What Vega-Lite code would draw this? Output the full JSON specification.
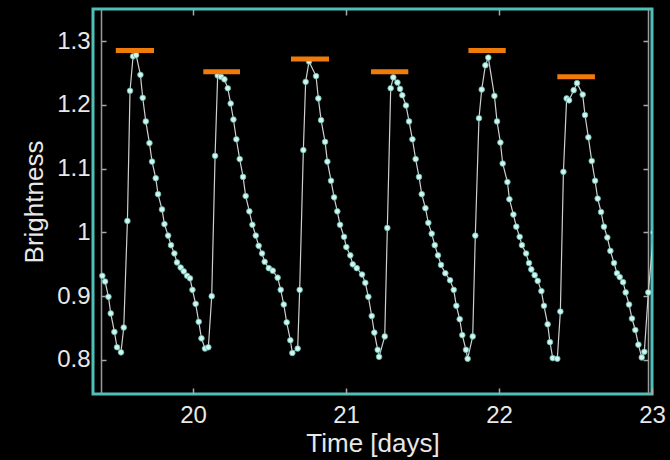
{
  "$schema": "https://vega.github.io/schema/vega-lite/v6.json",
  "width": 559,
  "height": 385,
  "autosize": {"type": "none"},
  "padding": {"left": 93, "top": 9, "right": 18, "bottom": 66},
  "background": "#000000",
  "config": {
    "view": {"stroke": "#4FC0B8", "strokeWidth": 3},
    "font": "Liberation Sans",
    "axis": {
      "grid": false,
      "domainColor": "#9a9a9a",
      "domainWidth": 1.5,
      "tickColor": "#a8a8a8",
      "tickWidth": 1.5,
      "labelColor": "#e8e8e8",
      "titleColor": "#e8e8e8",
      "labelFontSize": 24,
      "titleFontSize": 26,
      "titleFontWeight": "normal",
      "labelFont": "Liberation Sans",
      "titleFont": "Liberation Sans"
    }
  },
  "datasets": {
    "obs": [
      {"t": 19.407, "b": 0.932}, {"t": 19.425, "b": 0.923}, {"t": 19.447, "b": 0.899}, {"t": 19.462, "b": 0.873},
      {"t": 19.486, "b": 0.844}, {"t": 19.503, "b": 0.820}, {"t": 19.529, "b": 0.812}, {"t": 19.547, "b": 0.851},
      {"t": 19.571, "b": 1.018}, {"t": 19.588, "b": 1.222}, {"t": 19.608, "b": 1.276}, {"t": 19.628, "b": 1.278},
      {"t": 19.656, "b": 1.247}, {"t": 19.671, "b": 1.211}, {"t": 19.691, "b": 1.174}, {"t": 19.715, "b": 1.140},
      {"t": 19.732, "b": 1.111}, {"t": 19.756, "b": 1.085}, {"t": 19.771, "b": 1.060}, {"t": 19.797, "b": 1.036},
      {"t": 19.813, "b": 1.013}, {"t": 19.837, "b": 0.995}, {"t": 19.856, "b": 0.980}, {"t": 19.878, "b": 0.967},
      {"t": 19.895, "b": 0.953}, {"t": 19.919, "b": 0.945}, {"t": 19.939, "b": 0.939}, {"t": 19.961, "b": 0.932},
      {"t": 19.980, "b": 0.928}, {"t": 19.996, "b": 0.910}, {"t": 20.017, "b": 0.888}, {"t": 20.037, "b": 0.860},
      {"t": 20.055, "b": 0.834}, {"t": 20.078, "b": 0.818}, {"t": 20.100, "b": 0.820}, {"t": 20.122, "b": 0.900},
      {"t": 20.144, "b": 1.120}, {"t": 20.161, "b": 1.246}, {"t": 20.183, "b": 1.244}, {"t": 20.205, "b": 1.240},
      {"t": 20.227, "b": 1.226}, {"t": 20.246, "b": 1.202}, {"t": 20.264, "b": 1.177}, {"t": 20.283, "b": 1.146},
      {"t": 20.305, "b": 1.115}, {"t": 20.327, "b": 1.087}, {"t": 20.344, "b": 1.057}, {"t": 20.368, "b": 1.033},
      {"t": 20.388, "b": 1.012}, {"t": 20.410, "b": 0.995}, {"t": 20.429, "b": 0.979}, {"t": 20.451, "b": 0.967},
      {"t": 20.468, "b": 0.954}, {"t": 20.495, "b": 0.944}, {"t": 20.521, "b": 0.940}, {"t": 20.553, "b": 0.929},
      {"t": 20.573, "b": 0.910}, {"t": 20.593, "b": 0.887}, {"t": 20.612, "b": 0.859}, {"t": 20.636, "b": 0.831},
      {"t": 20.649, "b": 0.811}, {"t": 20.684, "b": 0.818}, {"t": 20.697, "b": 0.910}, {"t": 20.721, "b": 1.129},
      {"t": 20.736, "b": 1.236}, {"t": 20.758, "b": 1.268}, {"t": 20.804, "b": 1.245}, {"t": 20.819, "b": 1.210},
      {"t": 20.837, "b": 1.176}, {"t": 20.863, "b": 1.142}, {"t": 20.878, "b": 1.111}, {"t": 20.902, "b": 1.081},
      {"t": 20.922, "b": 1.055}, {"t": 20.943, "b": 1.033}, {"t": 20.961, "b": 1.012}, {"t": 20.987, "b": 0.993},
      {"t": 21.002, "b": 0.977}, {"t": 21.028, "b": 0.964}, {"t": 21.044, "b": 0.950}, {"t": 21.070, "b": 0.944},
      {"t": 21.105, "b": 0.934}, {"t": 21.126, "b": 0.921}, {"t": 21.146, "b": 0.899}, {"t": 21.168, "b": 0.869},
      {"t": 21.185, "b": 0.843}, {"t": 21.207, "b": 0.816}, {"t": 21.216, "b": 0.805}, {"t": 21.253, "b": 0.837},
      {"t": 21.270, "b": 1.007}, {"t": 21.292, "b": 1.226}, {"t": 21.309, "b": 1.243}, {"t": 21.336, "b": 1.235},
      {"t": 21.353, "b": 1.225}, {"t": 21.368, "b": 1.215}, {"t": 21.392, "b": 1.199}, {"t": 21.412, "b": 1.174},
      {"t": 21.434, "b": 1.146}, {"t": 21.455, "b": 1.115}, {"t": 21.477, "b": 1.087}, {"t": 21.495, "b": 1.060},
      {"t": 21.519, "b": 1.038}, {"t": 21.538, "b": 1.015}, {"t": 21.560, "b": 0.998}, {"t": 21.580, "b": 0.980},
      {"t": 21.601, "b": 0.964}, {"t": 21.621, "b": 0.949}, {"t": 21.649, "b": 0.936}, {"t": 21.680, "b": 0.925},
      {"t": 21.704, "b": 0.910}, {"t": 21.721, "b": 0.885}, {"t": 21.743, "b": 0.864}, {"t": 21.760, "b": 0.839},
      {"t": 21.784, "b": 0.816}, {"t": 21.795, "b": 0.802}, {"t": 21.828, "b": 0.837}, {"t": 21.845, "b": 0.995},
      {"t": 21.869, "b": 1.179}, {"t": 21.887, "b": 1.224}, {"t": 21.911, "b": 1.262}, {"t": 21.930, "b": 1.274},
      {"t": 21.970, "b": 1.214}, {"t": 21.987, "b": 1.174}, {"t": 22.009, "b": 1.141}, {"t": 22.024, "b": 1.108},
      {"t": 22.055, "b": 1.079}, {"t": 22.068, "b": 1.052}, {"t": 22.094, "b": 1.028}, {"t": 22.113, "b": 1.009},
      {"t": 22.135, "b": 0.993}, {"t": 22.150, "b": 0.980}, {"t": 22.177, "b": 0.967}, {"t": 22.196, "b": 0.952},
      {"t": 22.211, "b": 0.942}, {"t": 22.233, "b": 0.933}, {"t": 22.253, "b": 0.924}, {"t": 22.277, "b": 0.908},
      {"t": 22.294, "b": 0.885}, {"t": 22.318, "b": 0.856}, {"t": 22.333, "b": 0.828}, {"t": 22.351, "b": 0.803},
      {"t": 22.381, "b": 0.802}, {"t": 22.401, "b": 0.876}, {"t": 22.421, "b": 1.095}, {"t": 22.442, "b": 1.210},
      {"t": 22.458, "b": 1.207}, {"t": 22.488, "b": 1.223}, {"t": 22.510, "b": 1.234}, {"t": 22.547, "b": 1.216},
      {"t": 22.562, "b": 1.184}, {"t": 22.584, "b": 1.149}, {"t": 22.606, "b": 1.112}, {"t": 22.628, "b": 1.081},
      {"t": 22.645, "b": 1.053}, {"t": 22.667, "b": 1.032}, {"t": 22.686, "b": 1.009}, {"t": 22.708, "b": 0.992},
      {"t": 22.728, "b": 0.971}, {"t": 22.752, "b": 0.952}, {"t": 22.771, "b": 0.936}, {"t": 22.789, "b": 0.930},
      {"t": 22.811, "b": 0.922}, {"t": 22.828, "b": 0.906}, {"t": 22.850, "b": 0.887}, {"t": 22.869, "b": 0.865},
      {"t": 22.891, "b": 0.847}, {"t": 22.911, "b": 0.824}, {"t": 22.933, "b": 0.804}, {"t": 22.950, "b": 0.813},
      {"t": 22.976, "b": 0.906}, {"t": 23.010, "b": 1.000}
    ],
    "peaks": [
      {"start": 19.495, "end": 19.745, "level": 1.285},
      {"start": 20.067, "end": 20.307, "level": 1.252},
      {"start": 20.640, "end": 20.889, "level": 1.272},
      {"start": 21.163, "end": 21.407, "level": 1.252},
      {"start": 21.800, "end": 22.044, "level": 1.285},
      {"start": 22.381, "end": 22.627, "level": 1.244}
    ]
  },
  "layer": [
    {
      "data": {"name": "obs"},
      "mark": {"type": "line", "color": "#cfcfcf", "strokeWidth": 1.2, "clip": true},
      "encoding": {
        "x": {
          "field": "t", "type": "quantitative",
          "scale": {"domain": [19.346, 23.0], "nice": false, "zero": false},
          "axis": {"orient": "bottom", "values": [20, 21, 22, 23], "tickSize": -6, "labelPadding": 15, "labelFlush": false, "title": "Time [days]", "titlePadding": 3, "domain": false}
        },
        "y": {
          "field": "b", "type": "quantitative",
          "scale": {"domain": [0.7467, 1.3502], "nice": false, "zero": false},
          "axis": {"orient": "left", "values": [0.8, 0.9, 1, 1.1, 1.2, 1.3], "format": "~g", "offset": -8, "tickSize": -5, "labelPadding": 16, "title": "Brightness", "titlePadding": 9}
        }
      }
    },
    {
      "data": {"name": "obs"},
      "mark": {"type": "point", "filled": true, "size": 32, "fill": "#CFF7F0", "stroke": "#5fb3aa", "strokeWidth": 0.8, "opacity": 1, "clip": true},
      "encoding": {
        "x": {
          "field": "t", "type": "quantitative",
          "axis": {"orient": "top", "values": [20, 21, 22], "tickSize": -6, "labels": false, "domain": false, "title": null}
        },
        "y": {
          "field": "b", "type": "quantitative",
          "axis": {"orient": "right", "values": [0.8, 0.9, 1, 1.1, 1.2, 1.3], "offset": -4, "tickSize": -5, "labels": false, "title": null}
        }
      }
    },
    {
      "data": {"name": "peaks"},
      "mark": {"type": "rule", "color": "#F07A0A", "strokeWidth": 5},
      "encoding": {
        "x": {"field": "start", "type": "quantitative", "axis": null},
        "x2": {"field": "end"},
        "y": {"field": "level", "type": "quantitative", "axis": null}
      }
    }
  ],
  "resolve": {"axis": {"x": "independent", "y": "independent"}}
}
